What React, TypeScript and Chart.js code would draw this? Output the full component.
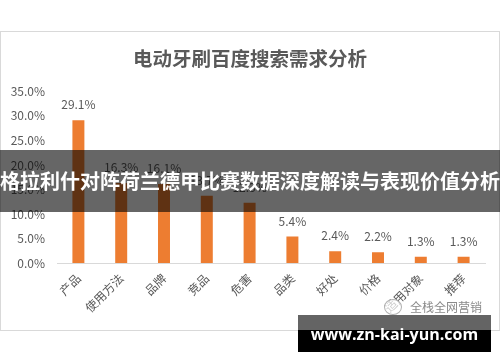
import React, { useEffect, useRef } from "react";
import { Chart, registerables } from "chart.js";

Chart.register(...registerables);

const categories = ["产品", "使用方法", "品牌", "竞品", "危害", "品类", "好处", "价格", "适用对象", "推荐"];
const values = [29.1, 16.3, 16.1, 13.7, 12.3, 5.4, 2.4, 2.2, 1.3, 1.3];
const yMin = 0;
const yMax = 35;
const yStep = 5;
const chartTitle = "电动牙刷百度搜索需求分析";
const bannerTitle = "格拉利什对阵荷兰德甲比赛数据深度解读与表现价值分析";
const siteText = "www.zn-kai-yun.com";
const watermarkText = "全栈全网营销";

const FONT = '"Noto Sans CJK SC", "Noto Sans", sans-serif';
const TEXT_COLOR = "#595959";
const BAR_COLOR = "#ED7D31";

const valueLabels = {
  id: "valueLabels",
  afterDatasetsDraw(chart: any) {
    const ctx = chart.ctx;
    const meta = chart.getDatasetMeta(0);
    ctx.save();
    ctx.font = `12px ${FONT}`;
    ctx.fillStyle = TEXT_COLOR;
    ctx.textAlign = "center";
    ctx.textBaseline = "alphabetic";
    meta.data.forEach((bar: any, i: number) => {
      ctx.fillText(values[i].toFixed(1) + "%", bar.x, bar.y - 11);
    });
    ctx.restore();
  },
};

export default function App() {
  const canvasRef = useRef<HTMLCanvasElement | null>(null);

  useEffect(() => {
    if (!canvasRef.current) return;
    const chart = new Chart(canvasRef.current, {
      type: "bar",
      data: {
        labels: categories,
        datasets: [
          {
            data: values,
            backgroundColor: BAR_COLOR,
            barPercentage: 0.56,
            categoryPercentage: 0.5,
          },
        ],
      },
      options: {
        responsive: false,
        animation: false,
        devicePixelRatio: 1,
        layout: { padding: { left: 0, right: 0, top: 0, bottom: 0 } },
        plugins: {
          legend: { display: false },
          tooltip: { enabled: false },
          title: {
            display: true,
            text: chartTitle,
            color: TEXT_COLOR,
            font: { size: 19.5, weight: "bold", family: FONT },
            padding: { top: 16, bottom: 21 },
          },
        },
        scales: {
          x: {
            grid: { display: false, drawTicks: false },
            border: { display: true, color: "#d9d9d9", width: 1 },
            ticks: {
              color: TEXT_COLOR,
              font: { size: 12, family: FONT },
              minRotation: 45,
              maxRotation: 45,
              autoSkip: false,
              padding: 8,
            },
            afterFit: (s: any) => {
              s.height = 68;
            },
          },
          y: {
            min: yMin,
            max: yMax,
            grid: { display: false, drawTicks: false },
            border: { display: false },
            ticks: {
              stepSize: yStep,
              color: TEXT_COLOR,
              font: { size: 12, family: FONT },
              padding: 12,
              callback: (v: any) => Number(v).toFixed(1) + "%",
            },
            afterFit: (s: any) => {
              s.width = 57;
            },
          },
          yRight: {
            type: "linear",
            position: "right",
            min: yMin,
            max: yMax,
            grid: { display: false, drawTicks: false },
            border: { display: false },
            ticks: { display: false },
            afterFit: (s: any) => {
              s.width = 15;
            },
          },
        },
      },
      plugins: [valueLabels],
    });
    return () => chart.destroy();
  }, []);

  return (
    <div
      style={{
        position: "absolute",
        left: 0,
        top: 0,
        width: 500,
        height: 362,
        background: "#ffffff",
        overflow: "hidden",
        fontFamily: FONT,
      }}
    >
      <div
        style={{
          position: "absolute",
          left: 0,
          top: 31,
          width: 500,
          height: 300,
          boxSizing: "border-box",
          border: "1px solid #d9d9d9",
        }}
      />
      <canvas
        ref={canvasRef}
        width={500}
        height={300}
        style={{ position: "absolute", left: 0, top: 31, width: 500, height: 300 }}
      />
      {/* watermark */}
      <div
        style={{
          position: "absolute",
          left: 384,
          top: 299,
          width: 18,
          height: 16,
          borderRadius: "50%",
          border: "1.5px solid #b0b0b0",
          boxSizing: "border-box",
          background: "rgba(255,255,255,0.7)",
        }}
      />
      <div
        style={{
          position: "absolute",
          left: 410,
          top: 298,
          fontSize: 12,
          lineHeight: "18px",
          color: "#8a8a8a",
          whiteSpace: "nowrap",
        }}
      >
        {watermarkText}
      </div>
      {/* middle banner */}
      <div
        style={{
          position: "absolute",
          left: 0,
          top: 150,
          width: 500,
          height: 62,
          background: "rgba(0,0,0,0.6)",
          color: "#ffffff",
          fontWeight: "bold",
          fontSize: 20,
          lineHeight: "62px",
          textAlign: "center",
          whiteSpace: "nowrap",
          overflow: "hidden",
          display: "flex",
          justifyContent: "center",
        }}
      >
        <span style={{ flex: "none" }}>{bannerTitle}</span>
      </div>
      {/* bottom banner */}
      <div
        style={{
          position: "absolute",
          left: 298,
          top: 315,
          width: 193,
          height: 15,
          background: "#646464",
        }}
      />
      <div
        style={{
          position: "absolute",
          left: 298,
          top: 330,
          width: 193,
          height: 22,
          background: "#000000",
        }}
      />
      <div
        style={{
          position: "absolute",
          left: 298,
          top: 318,
          width: 193,
          height: 32,
          lineHeight: "32px",
          textAlign: "center",
          color: "#ffffff",
          fontWeight: "bold",
          fontSize: 16,
          fontFamily: '"Open Sans", "Noto Sans", sans-serif',
          whiteSpace: "nowrap",
        }}
      >
        {siteText}
      </div>
    </div>
  );
}
